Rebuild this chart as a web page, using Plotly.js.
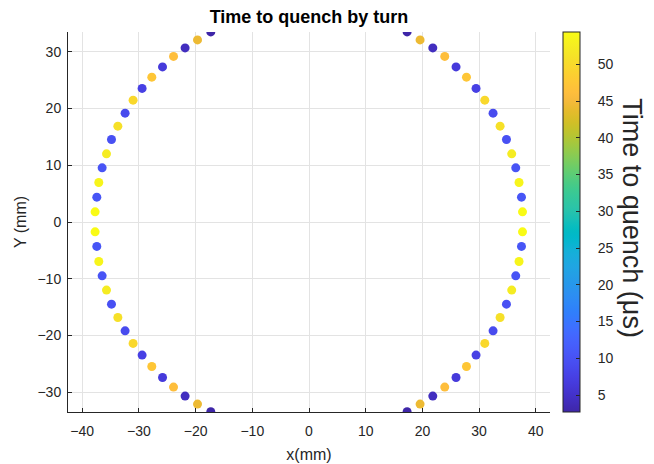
<!DOCTYPE html>
<html>
<head>
<meta charset="utf-8">
<script src="https://cdn.plot.ly/plotly-3.0.1.min.js"></script>
<style>html,body{margin:0;padding:0;background:#fff;}#chart{width:654px;height:464px;}</style>
</head>
<body>
<div id="chart"></div>
<script>
// Point positions (mm), left side top->bottom then right side top->bottom
const xLeft = [-17.32, -19.66, -21.85, -23.89, -25.83, -27.72, -29.43, -31.02, -32.43, -33.71, -34.83, -35.71, -36.48, -37.07, -37.42, -37.72,
               -37.72, -37.42, -37.07, -36.48, -35.71, -34.83, -33.71, -32.43, -31.02, -29.43, -27.72, -25.83, -23.89, -21.85, -19.66, -17.32];
const yLeft = [33.52, 32.11, 30.70, 29.19, 27.35, 25.54, 23.55, 21.48, 19.19, 16.90, 14.55, 12.02, 9.55, 6.97, 4.38, 1.79,
               -1.74, -4.31, -6.96, -9.49, -12.00, -14.49, -16.83, -19.19, -21.41, -23.47, -25.47, -27.41, -29.11, -30.70, -32.11, -33.45];
const xRight = [17.30, 19.59, 21.83, 23.94, 25.93, 27.77, 29.46, 31.00, 32.46, 33.70, 34.82, 35.75, 36.46, 37.04, 37.47, 37.65,
                37.65, 37.47, 37.04, 36.46, 35.75, 34.82, 33.70, 32.46, 31.00, 29.46, 27.77, 25.93, 23.94, 21.83, 19.59, 17.30];
const yRight = [33.52, 32.11, 30.70, 29.19, 27.35, 25.54, 23.55, 21.48, 19.19, 16.90, 14.55, 12.02, 9.55, 6.97, 4.38, 1.79,
                -1.74, -4.31, -6.96, -9.49, -12.00, -14.49, -16.83, -19.19, -21.41, -23.47, -25.47, -27.41, -29.11, -30.70, -32.11, -33.45];
// Time to quench (µs)
const tLeft = [2.7, 44.3, 4.3, 46.2, 6.5, 47.4, 7.5, 49.7, 9.0, 50.8, 9.8, 52.3, 10.3, 53.6, 10.5, 54.4,
               54.4, 10.5, 53.6, 10.3, 52.3, 9.8, 50.8, 9.0, 49.7, 7.5, 47.4, 6.5, 46.2, 4.3, 44.3, 2.7];
const tRight = [2.7, 44.3, 4.3, 46.2, 6.5, 47.4, 7.5, 49.7, 9.0, 50.8, 9.8, 52.3, 10.3, 53.6, 10.5, 54.4,
                54.4, 10.5, 53.6, 10.3, 52.3, 9.8, 50.8, 9.0, 49.7, 7.5, 47.4, 6.5, 46.2, 4.3, 44.3, 2.7];

const parula = [
[0.2422,0.1504,0.6603],[0.2504,0.1650,0.7076],[0.2578,0.1818,0.7511],[0.2647,0.1978,0.7952],
[0.2706,0.2147,0.8364],[0.2751,0.2342,0.8710],[0.2783,0.2559,0.8991],[0.2803,0.2782,0.9221],
[0.2813,0.3006,0.9414],[0.2810,0.3228,0.9579],[0.2795,0.3447,0.9717],[0.2760,0.3667,0.9829],
[0.2699,0.3892,0.9906],[0.2602,0.4123,0.9952],[0.2440,0.4358,0.9988],[0.2206,0.4603,0.9973],
[0.1963,0.4847,0.9892],[0.1834,0.5074,0.9798],[0.1786,0.5289,0.9682],[0.1764,0.5499,0.9520],
[0.1687,0.5703,0.9359],[0.1540,0.5902,0.9218],[0.1460,0.6091,0.9079],[0.1380,0.6276,0.8973],
[0.1248,0.6459,0.8883],[0.1113,0.6635,0.8763],[0.0952,0.6798,0.8598],[0.0689,0.6948,0.8394],
[0.0297,0.7082,0.8163],[0.0036,0.7203,0.7917],[0.0067,0.7312,0.7660],[0.0433,0.7411,0.7394],
[0.0964,0.7500,0.7120],[0.1408,0.7584,0.6842],[0.1717,0.7670,0.6554],[0.1938,0.7758,0.6251],
[0.2161,0.7843,0.5923],[0.2470,0.7918,0.5567],[0.2906,0.7973,0.5188],[0.3406,0.8008,0.4789],
[0.3909,0.8029,0.4354],[0.4456,0.8024,0.3909],[0.5044,0.7993,0.3480],[0.5616,0.7942,0.3045],
[0.6174,0.7876,0.2612],[0.6720,0.7793,0.2227],[0.7242,0.7698,0.1910],[0.7738,0.7598,0.1646],
[0.8203,0.7498,0.1535],[0.8634,0.7406,0.1596],[0.9035,0.7330,0.1774],[0.9393,0.7288,0.2100],
[0.9728,0.7298,0.2394],[0.9956,0.7434,0.2371],[0.9970,0.7659,0.2199],[0.9952,0.7893,0.2028],
[0.9892,0.8136,0.1885],[0.9786,0.8386,0.1766],[0.9676,0.8639,0.1643],[0.9610,0.8890,0.1537],
[0.9597,0.9135,0.1423],[0.9628,0.9373,0.1265],[0.9691,0.9606,0.1064],[0.9769,0.9839,0.0805]];
const colorscale = parula.map((c, i) => [i / (parula.length - 1),
  'rgb(' + Math.round(c[0]*255) + ',' + Math.round(c[1]*255) + ',' + Math.round(c[2]*255) + ')']);

const xs = xLeft.concat(xRight);
const ys = yLeft.concat(yRight);
const ts = tLeft.concat(tRight);
const tmin = Math.min(...ts), tmax = Math.max(...ts);

const FONT = 'Liberation Sans, Arial, Helvetica, sans-serif';
const INK = '#262626';

const trace = {
  type: 'scatter', mode: 'markers', x: xs, y: ys,
  marker: {
    size: 9, color: ts, colorscale: colorscale, cmin: tmin, cmax: tmax,
    line: {width: 0},
    colorbar: {
      thickness: 17, thicknessmode: 'pixels', len: 1, lenmode: 'fraction',
      x: 1.027, xanchor: 'left', xref: 'paper', y: 0.5, yanchor: 'middle', xpad: 0, ypad: 0,
      outlinecolor: INK, outlinewidth: 1,
      ticks: 'inside', ticklen: 4, tickcolor: INK, tickwidth: 1,
      tick0: 0, dtick: 5, tickprefix: '\u2002\u2002',
      tickfont: {family: FONT, size: 14, color: INK}
    }
  },
  hoverinfo: 'x+y'
};

const axisCommon = {
  ticks: 'inside', ticklen: 4, tickcolor: INK, tickwidth: 1,
  showline: true, linecolor: INK, linewidth: 1, mirror: false,
  showgrid: true, gridcolor: '#e3e3e3', gridwidth: 1, zeroline: false,
  tickfont: {family: FONT, size: 14, color: INK}, dtick: 10, tick0: 0
};

const layout = {
  width: 654, height: 464,
  margin: {l: 68, r: 104, t: 32, b: 52, pad: 0},
  paper_bgcolor: '#ffffff', plot_bgcolor: '#ffffff',
  showlegend: false,
  font: {family: FONT, color: INK},
  title: {text: '<b>Time to quench by turn</b>', x: 0.5, xref: 'paper', xanchor: 'center',
          y: 1 - 17/464, yref: 'container', yanchor: 'middle',
          font: {family: FONT, size: 18, color: '#000000'}},
  xaxis: Object.assign({}, axisCommon, {range: [-42.5, 42.5], ticklabelstandoff: 6,
          title: {text: 'x(mm)', font: {family: FONT, size: 16, color: INK}, standoff: 11}}),
  yaxis: Object.assign({}, axisCommon, {range: [-33.5, 33.5], ticklabelstandoff: 3,
          title: {text: 'Y (mm)', font: {family: FONT, size: 16, color: INK}, standoff: 6}}),
  annotations: [{
    text: 'Time to quench (\u03bcs)', textangle: 90, showarrow: false,
    xref: 'paper', yref: 'paper', x: 1.17, y: 0.51, xanchor: 'center', yanchor: 'middle',
    font: {family: FONT, size: 27, color: INK}
  }]
};

Plotly.newPlot('chart', [trace], layout, {staticPlot: true, displayModeBar: false});
</script>
</body>
</html>
